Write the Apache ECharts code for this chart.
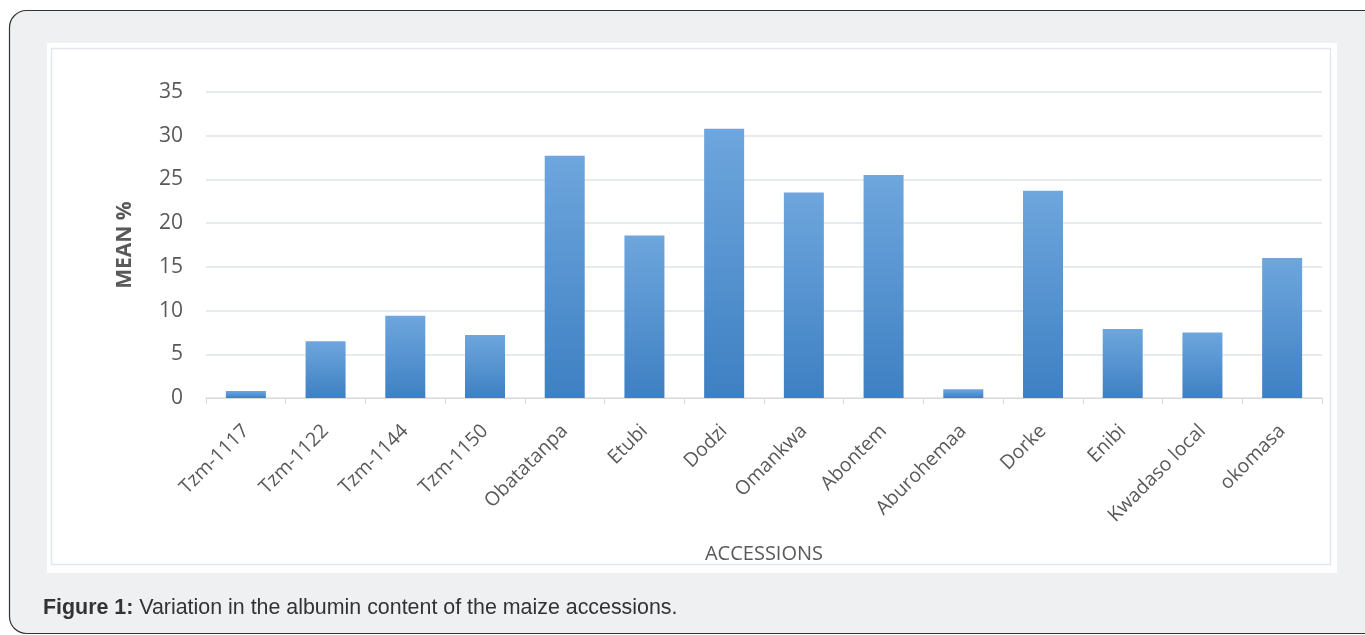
<!DOCTYPE html>
<html>
<head>
<meta charset="utf-8">
<script src="https://cdn.jsdelivr.net/npm/echarts@6/dist/echarts.min.js"></script>
<style>
html,body{margin:0;padding:0;background:#ffffff;}
#chart{width:1365px;height:635px;}
</style>
</head>
<body>
<div id="chart"></div>
<script>
var categories = ["Tzm-1117","Tzm-1122","Tzm-1144","Tzm-1150","Obatatanpa","Etubi","Dodzi","Omankwa","Abontem","Aburohemaa","Dorke","Enibi","Kwadaso local","okomasa"];
var meanValues = [0.8, 6.5, 9.4, 7.2, 27.7, 18.6, 30.8, 23.5, 25.5, 1.0, 23.7, 7.9, 7.5, 16.0];
var yTicks = {min: 0, max: 35, interval: 5};

var chart = echarts.init(document.getElementById('chart'));
chart.setOption({
  animation: false,
  backgroundColor: '#ffffff',
  graphic: [
    {type:'rect', z:-10, shape:{x:9.5, y:10.5, width:1372, height:623, r:17}, style:{fill:'#eff0f2', stroke:'#333333', lineWidth:1.2}},
    {type:'rect', z:-9, shape:{x:47, y:43, width:1290, height:530}, style:{fill:'#ffffff'}},
    {type:'rect', z:-8, shape:{x:51.5, y:48.5, width:1279, height:516}, style:{fill:'#ffffff', stroke:'#e3e6ea', lineWidth:1.5}},
    {type:'text', left:43, top:598, style:{rich:{b:{fontFamily:'Liberation Sans', fontWeight:'bold', fontSize:21.4, fill:'#333333'}, n:{fontFamily:'Liberation Sans', fontSize:21.4, fill:'#333333'}}, text:'{b|Figure 1:}{n| Variation in the albumin content of the maize accessions.}'}}
  ],
  grid: {left: 206, right: 43, top: 92, bottom: 237, containLabel: false},
  xAxis: {
    type: 'category',
    data: categories,
    name: 'ACCESSIONS',
    nameLocation: 'middle',
    nameGap: 146,
    nameTextStyle: {fontFamily: 'Open Sans', fontSize: 20, color: '#595959'},
    axisLine: {lineStyle: {color: '#d9d9d9', width: 1}},
    axisTick: {show: true, length: 6, lineStyle: {color: '#d9d9d9'}},
    axisLabel: {rotate: 45, fontFamily: 'Open Sans', fontSize: 19.5, color: '#595959', margin: 30, interval: 0}
  },
  yAxis: {
    type: 'value',
    min: yTicks.min, max: yTicks.max, interval: yTicks.interval,
    name: 'MEAN %',
    nameLocation: 'middle',
    nameGap: 70,
    nameRotate: 90,
    nameTextStyle: {fontFamily: 'Open Sans', fontSize: 21, fontWeight: 'bold', color: '#595959'},
    axisLine: {show: false},
    axisTick: {show: false},
    axisLabel: {fontFamily: 'Open Sans', fontSize: 21, color: '#595959', margin: 23},
    splitLine: {lineStyle: {color: '#e1e4e8', width: 1.5}}
  },
  series: [{
    type: 'bar',
    data: meanValues,
    barWidth: 40,
    itemStyle: {
      color: new echarts.graphic.LinearGradient(0, 0, 0, 1, [
        {offset: 0, color: '#6ea6dd'},
        {offset: 1, color: '#3e80c3'}
      ])
    }
  }]
});
</script>
</body>
</html>
